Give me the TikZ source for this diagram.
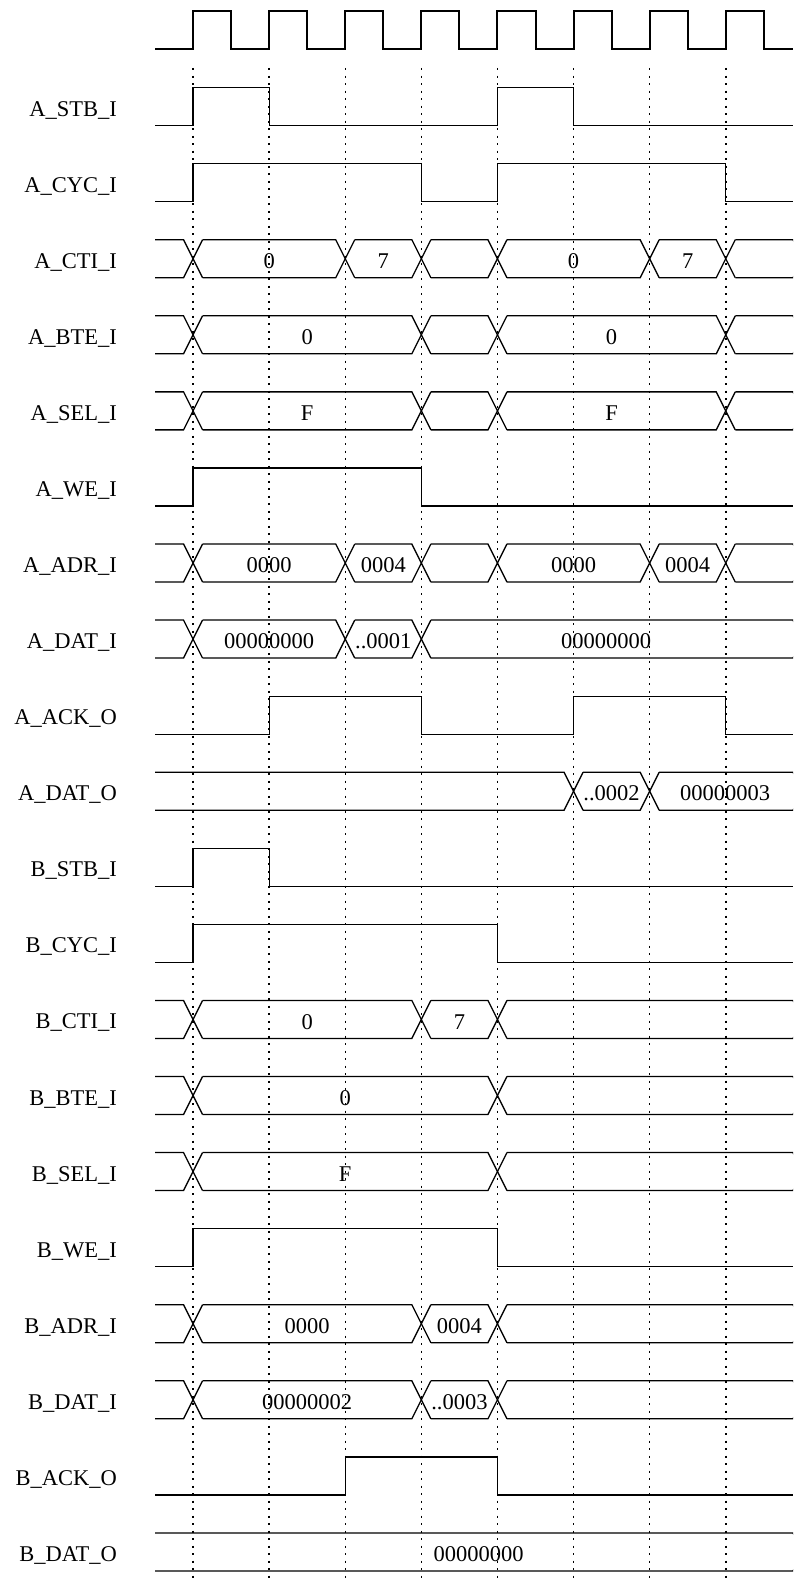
\documentclass[tikz,border=0pt]{standalone}
\usepackage{fontspec}
\setmainfont{Liberation Serif}
\newcommand\sigfont{\fontsize{22.5}{27}\selectfont}
\tikzset{
  clk/.style={line width=2pt, line join=miter},
  sig/.style={line width=1.3pt, line join=miter},
  gridline/.style={line width=1.5pt, dash pattern=on 2pt off 5.5pt},
  lab/.style={anchor=base east, inner sep=0pt, font=\sigfont},
  val/.style={anchor=base, inner sep=0pt, font=\sigfont},
}
\newcommand\busrow[1]{%
  \foreach \T [remember=\T as \Tp (initially 145.5)] in {#1} {
    \draw[sig] ({\Tp+9.5},-19) -- ({\T-9.5},-19) -- ({\T+9.5},19);
    \draw[sig] ({\Tp+9.5},19) -- ({\T-9.5},19) -- ({\T+9.5},-19);
  }}
\begin{document}
\begin{tikzpicture}[x=1pt,y=-1pt]
\useasboundingbox (0,0) rectangle (793,1579);
\clip (0,0) rectangle (793,1579);
% dotted time markers
\foreach \x in {193.05,269.15,345.25,421.35,497.45,573.55,649.65,725.75}
  \draw[gridline] (\x,68) -- (\x,1579);
% clock
\draw[clk] (155,49.5) \foreach \k in {0,...,7} { -| ({193.05+76.1*\k},11.5) -| ({231.1+76.1*\k},49.5) } -- (793,49.5);
% A_STB_I
\begin{scope}[shift={(0,106.6)}]
\node[lab] (l0) at (117,9.5) {A\_STB\_I};
\draw[sig] (155,19) -| (193.05,-19) -| (269.15,19) -| (497.45,-19) -| (573.55,19) -- (793,19);
\end{scope}
% A_CYC_I
\begin{scope}[shift={(0,182.67)}]
\node[lab] (l1) at (117,9.5) {A\_CYC\_I};
\draw[sig] (155,19) -| (193.05,-19) -| (421.35,19) -| (497.45,-19) -| (725.75,19) -- (793,19);
\end{scope}
% A_CTI_I
\begin{scope}[shift={(0,258.74)}]
\node[lab] (l2) at (117,9.5) {A\_CTI\_I};
\busrow{193.05,345.25,421.35,497.45,649.65,725.75,802.5}
\node[val] (v2a) at (269.15,9.6) {0};
\node[val] (v2b) at (383.3,9.6) {7};
\node[val] (v2c) at (573.55,9.6) {0};
\node[val] (v2d) at (687.7,9.6) {7};
\end{scope}
% A_BTE_I
\begin{scope}[shift={(0,334.81)}]
\node[lab] (l3) at (117,9.5) {A\_BTE\_I};
\busrow{193.05,421.35,497.45,725.75,802.5}
\node[val] (v3a) at (307.2,9.6) {0};
\node[val] (v3b) at (611.6,9.6) {0};
\end{scope}
% A_SEL_I
\begin{scope}[shift={(0,410.88)}]
\node[lab] (l4) at (117,9.5) {A\_SEL\_I};
\busrow{193.05,421.35,497.45,725.75,802.5}
\node[val] (v4a) at (307.2,9.6) {F};
\node[val] (v4b) at (611.6,9.6) {F};
\end{scope}
% A_WE_I
\begin{scope}[shift={(0,486.95)}]
\node[lab] (l5) at (117,9.5) {A\_WE\_I};
\draw[sig] (155,19) -| (193.05,-19) -| (421.35,19) -- (793,19);
\end{scope}
% A_ADR_I
\begin{scope}[shift={(0,563.02)}]
\node[lab] (l6) at (117,9.5) {A\_ADR\_I};
\busrow{193.05,345.25,421.35,497.45,649.65,725.75,802.5}
\node[val] (v6a) at (269.15,9.6) {0000};
\node[val] (v6b) at (383.3,9.6) {0004};
\node[val] (v6c) at (573.55,9.6) {0000};
\node[val] (v6d) at (687.7,9.6) {0004};
\end{scope}
% A_DAT_I
\begin{scope}[shift={(0,639.09)}]
\node[lab] (l7) at (117,9.5) {A\_DAT\_I};
\busrow{193.05,345.25,421.35,802.5}
\node[val] (v7a) at (269.15,9.6) {00000000};
\node[val] (v7b) at (383.3,9.6) {..0001};
\node[val] (v7c) at (606,9.6) {00000000};
\end{scope}
% A_ACK_O
\begin{scope}[shift={(0,715.16)}]
\node[lab] (l8) at (117,9.5) {A\_ACK\_O};
\draw[sig] (155,19) -| (269.15,-19) -| (421.35,19) -| (573.55,-19) -| (725.75,19) -- (793,19);
\end{scope}
% A_DAT_O
\begin{scope}[shift={(0,791.23)}]
\node[lab] (l9) at (117,9.5) {A\_DAT\_O};
\busrow{573.55,649.65,802.5}
\node[val] (v9a) at (611.6,9.6) {..0002};
\node[val] (v9b) at (725,9.6) {00000003};
\end{scope}
% B_STB_I
\begin{scope}[shift={(0,867.3)}]
\node[lab] (l10) at (117,9.5) {B\_STB\_I};
\draw[sig] (155,19) -| (193.05,-19) -| (269.15,19) -- (793,19);
\end{scope}
% B_CYC_I
\begin{scope}[shift={(0,943.37)}]
\node[lab] (l11) at (117,9.5) {B\_CYC\_I};
\draw[sig] (155,19) -| (193.05,-19) -| (497.45,19) -- (793,19);
\end{scope}
% B_CTI_I
\begin{scope}[shift={(0,1019.44)}]
\node[lab] (l12) at (117,9.5) {B\_CTI\_I};
\busrow{193.05,421.35,497.45,802.5}
\node[val] (v12a) at (307.2,9.6) {0};
\node[val] (v12b) at (459.4,9.6) {7};
\end{scope}
% B_BTE_I
\begin{scope}[shift={(0,1095.51)}]
\node[lab] (l13) at (117,9.5) {B\_BTE\_I};
\busrow{193.05,497.45,802.5}
\node[val] (v13a) at (345.25,9.6) {0};
\end{scope}
% B_SEL_I
\begin{scope}[shift={(0,1171.58)}]
\node[lab] (l14) at (117,9.5) {B\_SEL\_I};
\busrow{193.05,497.45,802.5}
\node[val] (v14a) at (345.25,9.6) {F};
\end{scope}
% B_WE_I
\begin{scope}[shift={(0,1247.65)}]
\node[lab] (l15) at (117,9.5) {B\_WE\_I};
\draw[sig] (155,19) -| (193.05,-19) -| (497.45,19) -- (793,19);
\end{scope}
% B_ADR_I
\begin{scope}[shift={(0,1323.72)}]
\node[lab] (l16) at (117,9.5) {B\_ADR\_I};
\busrow{193.05,421.35,497.45,802.5}
\node[val] (v16a) at (307.2,9.6) {0000};
\node[val] (v16b) at (459.4,9.6) {0004};
\end{scope}
% B_DAT_I
\begin{scope}[shift={(0,1399.79)}]
\node[lab] (l17) at (117,9.5) {B\_DAT\_I};
\busrow{193.05,421.35,497.45,802.5}
\node[val] (v17a) at (307.2,9.6) {00000002};
\node[val] (v17b) at (459.4,9.6) {..0003};
\end{scope}
% B_ACK_O
\begin{scope}[shift={(0,1475.86)}]
\node[lab] (l18) at (117,9.5) {B\_ACK\_O};
\draw[sig] (155,19) -| (345.25,-19) -| (497.45,19) -- (793,19);
\end{scope}
% B_DAT_O
\begin{scope}[shift={(0,1551.93)}]
\node[lab] (l19) at (117,9.5) {B\_DAT\_O};
\busrow{802.5}
\node[val] (v19a) at (478.5,9.6) {00000000};
\end{scope}
\end{tikzpicture}
\end{document}
